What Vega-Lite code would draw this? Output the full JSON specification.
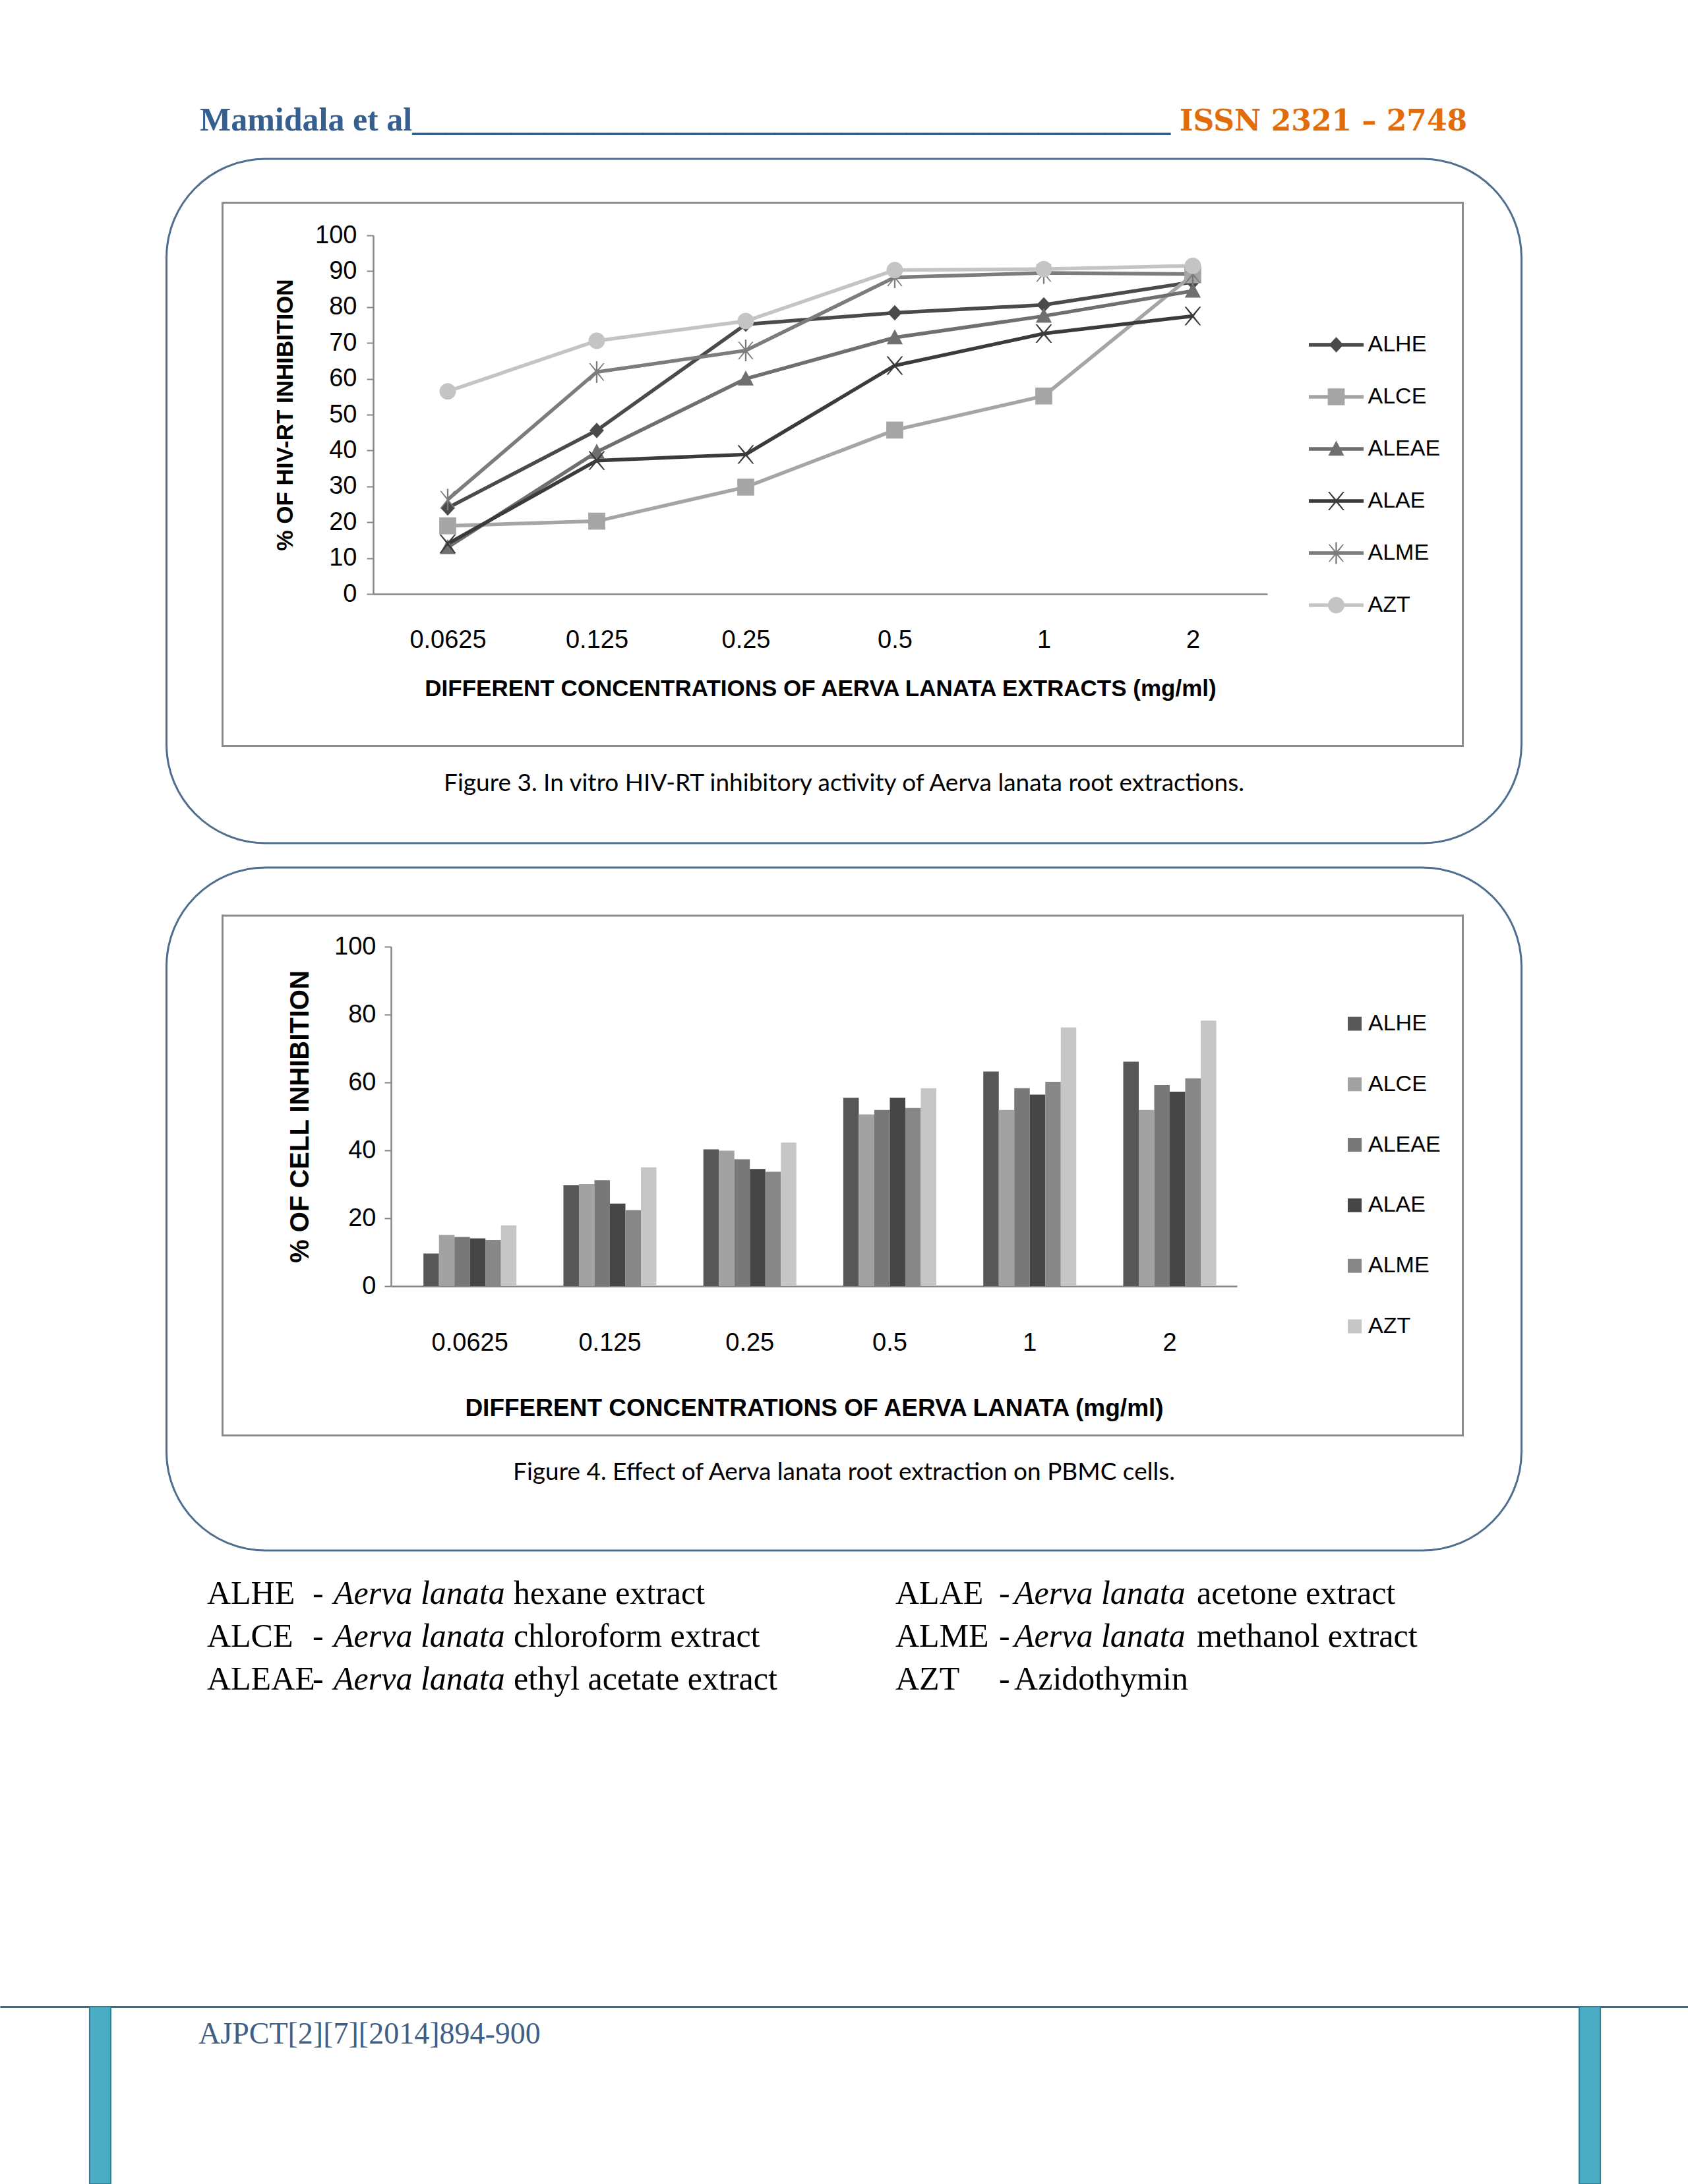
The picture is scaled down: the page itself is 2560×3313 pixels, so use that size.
{
  "$schema": "https://vega.github.io/schema/vega-lite/v6.json",
  "background": "white",
  "padding": 0,
  "bounds": "flush",
  "spacing": 37,
  "center": true,
  "resolve": {
    "scale": {"color": "independent", "fill": "independent", "stroke": "independent", "shape": "independent"},
    "legend": {"color": "independent", "fill": "independent", "stroke": "independent", "shape": "independent"}
  },
  "config": {
    "view": {"stroke": null},
    "font": "Liberation Sans, sans-serif",
    "axis": {"grid": false, "labelColor": "#000000", "titleColor": "#000000", "domainColor": "#868686", "domainWidth": 2.5, "tickColor": "#868686", "tickWidth": 2, "labelFont": "Liberation Sans, sans-serif", "titleFont": "Liberation Sans, sans-serif", "labelFontSize": 38, "titleFontWeight": "bold"},
    "legend": {"padding": 0, "labelColor": "#000000", "labelFontSize": 34, "labelFont": "Liberation Sans, sans-serif"}
  },
  "datasets": {
    "rt": [
      {"conc": "0.0625", "series": "ALHE", "inhibition": 24},
      {"conc": "0.125", "series": "ALHE", "inhibition": 45.6},
      {"conc": "0.25", "series": "ALHE", "inhibition": 75.2},
      {"conc": "0.5", "series": "ALHE", "inhibition": 78.4},
      {"conc": "1", "series": "ALHE", "inhibition": 80.6},
      {"conc": "2", "series": "ALHE", "inhibition": 87},
      {"conc": "0.0625", "series": "ALCE", "inhibition": 19},
      {"conc": "0.125", "series": "ALCE", "inhibition": 20.3},
      {"conc": "0.25", "series": "ALCE", "inhibition": 29.8},
      {"conc": "0.5", "series": "ALCE", "inhibition": 45.7},
      {"conc": "1", "series": "ALCE", "inhibition": 55.2},
      {"conc": "2", "series": "ALCE", "inhibition": 89},
      {"conc": "0.0625", "series": "ALEAE", "inhibition": 13},
      {"conc": "0.125", "series": "ALEAE", "inhibition": 39.6},
      {"conc": "0.25", "series": "ALEAE", "inhibition": 60},
      {"conc": "0.5", "series": "ALEAE", "inhibition": 71.5},
      {"conc": "1", "series": "ALEAE", "inhibition": 77.5},
      {"conc": "2", "series": "ALEAE", "inhibition": 84.5},
      {"conc": "0.0625", "series": "ALAE", "inhibition": 14},
      {"conc": "0.125", "series": "ALAE", "inhibition": 37.2},
      {"conc": "0.25", "series": "ALAE", "inhibition": 38.9},
      {"conc": "0.5", "series": "ALAE", "inhibition": 63.7},
      {"conc": "1", "series": "ALAE", "inhibition": 72.6},
      {"conc": "2", "series": "ALAE", "inhibition": 77.5},
      {"conc": "0.0625", "series": "ALME", "inhibition": 26.3},
      {"conc": "0.125", "series": "ALME", "inhibition": 61.9},
      {"conc": "0.25", "series": "ALME", "inhibition": 67.9},
      {"conc": "0.5", "series": "ALME", "inhibition": 88.3},
      {"conc": "1", "series": "ALME", "inhibition": 89.5},
      {"conc": "2", "series": "ALME", "inhibition": 89.2},
      {"conc": "0.0625", "series": "AZT", "inhibition": 56.5},
      {"conc": "0.125", "series": "AZT", "inhibition": 70.6},
      {"conc": "0.25", "series": "AZT", "inhibition": 76.1},
      {"conc": "0.5", "series": "AZT", "inhibition": 90.3},
      {"conc": "1", "series": "AZT", "inhibition": 90.6},
      {"conc": "2", "series": "AZT", "inhibition": 91.5}
    ],
    "pbmc": [
      {"conc": "0.0625", "series": "ALHE", "inhibition": 9.6},
      {"conc": "0.0625", "series": "ALCE", "inhibition": 15.1},
      {"conc": "0.0625", "series": "ALEAE", "inhibition": 14.5},
      {"conc": "0.0625", "series": "ALAE", "inhibition": 14.1},
      {"conc": "0.0625", "series": "ALME", "inhibition": 13.6},
      {"conc": "0.0625", "series": "AZT", "inhibition": 17.9},
      {"conc": "0.125", "series": "ALHE", "inhibition": 29.7},
      {"conc": "0.125", "series": "ALCE", "inhibition": 30.1},
      {"conc": "0.125", "series": "ALEAE", "inhibition": 31.2},
      {"conc": "0.125", "series": "ALAE", "inhibition": 24.3},
      {"conc": "0.125", "series": "ALME", "inhibition": 22.4},
      {"conc": "0.125", "series": "AZT", "inhibition": 35},
      {"conc": "0.25", "series": "ALHE", "inhibition": 40.3},
      {"conc": "0.25", "series": "ALCE", "inhibition": 39.9},
      {"conc": "0.25", "series": "ALEAE", "inhibition": 37.4},
      {"conc": "0.25", "series": "ALAE", "inhibition": 34.5},
      {"conc": "0.25", "series": "ALME", "inhibition": 33.7},
      {"conc": "0.25", "series": "AZT", "inhibition": 42.3},
      {"conc": "0.5", "series": "ALHE", "inhibition": 55.5},
      {"conc": "0.5", "series": "ALCE", "inhibition": 50.6},
      {"conc": "0.5", "series": "ALEAE", "inhibition": 51.9},
      {"conc": "0.5", "series": "ALAE", "inhibition": 55.5},
      {"conc": "0.5", "series": "ALME", "inhibition": 52.5},
      {"conc": "0.5", "series": "AZT", "inhibition": 58.3},
      {"conc": "1", "series": "ALHE", "inhibition": 63.2},
      {"conc": "1", "series": "ALCE", "inhibition": 51.9},
      {"conc": "1", "series": "ALEAE", "inhibition": 58.3},
      {"conc": "1", "series": "ALAE", "inhibition": 56.4},
      {"conc": "1", "series": "ALME", "inhibition": 60.2},
      {"conc": "1", "series": "AZT", "inhibition": 76.2},
      {"conc": "2", "series": "ALHE", "inhibition": 66.1},
      {"conc": "2", "series": "ALCE", "inhibition": 51.9},
      {"conc": "2", "series": "ALEAE", "inhibition": 59.2},
      {"conc": "2", "series": "ALAE", "inhibition": 57.3},
      {"conc": "2", "series": "ALME", "inhibition": 61.2},
      {"conc": "2", "series": "AZT", "inhibition": 78.2}
    ]
  },
  "vconcat": [
    {
      "width": 2560,
      "height": 204,
      "encoding": {
        "x": {"field": "side", "type": "nominal", "scale": {"type": "point", "domain": ["left", "right"], "padding": 0.3614, "align": 0.2821}, "axis": null},
        "y": {"field": "band", "type": "nominal", "scale": {"type": "point", "domain": ["header"], "align": 0.9706}, "axis": null},
        "text": {"field": "label"}
      },
      "layer": [
        {
          "data": {"values": [{"side": "left", "band": "header", "label": "Mamidala et al______________________________________________"}]},
          "mark": {"type": "text", "align": "left", "baseline": "alphabetic", "font": "Liberation Serif", "fontSize": 50, "fontWeight": "bold", "color": "#365f91"}
        },
        {
          "data": {"values": [{"side": "right", "band": "header", "label": "ISSN 2321 – 2748"}]},
          "mark": {"type": "text", "align": "left", "baseline": "alphabetic", "font": "DejaVu Serif", "fontSize": 44, "fontWeight": "bold", "color": "#e36c0a"}
        }
      ]
    },
    {
      "width": 2055,
      "height": 1038,
      "view": {"stroke": "#4f6d8f", "strokeWidth": 3, "cornerRadius": 150},
      "title": {"text": "Figure 3. In vitro HIV-RT inhibitory activity of Aerva lanata root extractions.", "orient": "bottom", "offset": -79, "baseline": "alphabetic", "font": "Lato", "fontSize": 37, "fontWeight": "normal", "color": "#000000", "anchor": "middle"},
      "data": {"name": "rt"},
      "layer": [
        {
          "mark": {"type": "point", "opacity": 0},
          "encoding": {
            "x": {"datum": 0, "type": "quantitative", "scale": {"domain": [0, 1], "range": [84.5, 1965.5]}, "axis": {"orient": "bottom", "offset": -148, "ticks": false, "labels": false, "title": null, "domainColor": "#8c8c8c", "domainWidth": 3, "domainCap": "square"}},
            "y": {"datum": 0, "type": "quantitative", "scale": {"domain": [0, 1], "range": [890, 66]}, "axis": {"orient": "left", "offset": -84.5, "ticks": false, "labels": false, "title": null, "domainColor": "#8c8c8c", "domainWidth": 3, "domainCap": "square"}}
          }
        },
        {
          "mark": {"type": "point", "opacity": 0},
          "encoding": {
            "x": {"datum": 0, "type": "quantitative", "scale": {"domain": [0, 1], "range": [84.5, 1965.5]}, "axis": {"orient": "top", "offset": -66, "ticks": false, "labels": false, "title": null, "domainColor": "#8c8c8c", "domainWidth": 3, "domainCap": "square"}},
            "y": {"datum": 0, "type": "quantitative", "scale": {"domain": [0, 1], "range": [890, 66]}, "axis": {"orient": "right", "offset": -89.5, "ticks": false, "labels": false, "title": null, "domainColor": "#8c8c8c", "domainWidth": 3, "domainCap": "square"}}
          }
        },
        {
          "mark": {"type": "line", "strokeWidth": 5.5},
          "encoding": {
            "x": {"field": "conc", "type": "ordinal", "scale": {"type": "point", "domain": ["0.0625", "0.125", "0.25", "0.5", "1", "2"], "padding": 0.5, "range": [313.5, 1669.5]}, "axis": {"orient": "bottom", "offset": -378, "ticks": false, "labelAngle": 0, "labelPadding": 51, "title": "DIFFERENT CONCENTRATIONS OF AERVA LANATA EXTRACTS (mg/ml)", "titleFontSize": 35, "titlePadding": 37}},
            "y": {"field": "inhibition", "type": "quantitative", "scale": {"domain": [0, 100], "range": [660, 116], "nice": false}, "axis": {"orient": "left", "offset": -313.5, "values": [0, 10, 20, 30, 40, 50, 60, 70, 80, 90, 100], "tickSize": 10, "labelPadding": 15, "title": "% OF HIV-RT INHIBITION", "titleFontSize": 35, "titlePadding": 27}},
            "stroke": {"field": "series", "type": "nominal", "sort": ["ALHE", "ALCE", "ALEAE", "ALAE", "ALME", "AZT"], "scale": {"range": ["#4a4a4a", "#a5a5a5", "#6f6f6f", "#3b3b3b", "#7c7c7c", "#c4c4c4"]}, "legend": {
              "orient": "none", "legendX": 1729.5, "legendY": 242.8, "title": null,
              "symbolType": "stroke", "symbolSize": 6889, "symbolStrokeWidth": 5.5, "clipHeight": 78.4, "rowPadding": 0, "labelOffset": 3.5
            }}
          }
        },
        {
          "mark": {"type": "point", "filled": true, "size": 6084, "opacity": 1, "strokeWidth": 0},
          "encoding": {
            "x": {"field": "conc", "type": "ordinal", "scale": {"type": "point", "domain": ["0.0625", "0.125", "0.25", "0.5", "1", "2"], "padding": 0.5, "range": [313.5, 1669.5]}, "axis": null},
            "y": {"field": "inhibition", "type": "quantitative", "scale": {"domain": [0, 100], "range": [660, 116], "nice": false}, "axis": null},
            "fill": {"field": "series", "type": "nominal", "scale": {"domain": ["ALHE", "ALCE", "ALEAE", "ALAE", "ALME", "AZT"], "range": ["#4a4a4a", "#a5a5a5", "#6f6f6f", "#3b3b3b", "#7c7c7c", "#c4c4c4"]}, "legend": {
              "orient": "none", "legendX": 1735, "legendY": 242.8, "title": null,
              "symbolSize": 6084, "symbolStrokeWidth": 0, "clipHeight": 78.4, "rowPadding": 0, "labelOpacity": 0, "labelOffset": 3.5
            }},
            "shape": {"field": "series", "type": "nominal", "scale": {"domain": ["ALHE", "ALCE", "ALEAE", "ALAE", "ALME", "AZT"], "range": [
              "M0,-0.3L0.28,0L0,0.3L-0.28,0Z",
              "M-0.33,-0.33L0.33,-0.33L0.33,0.33L-0.33,0.33Z",
              "M0,-0.32L0.31,0.26L-0.31,0.26Z",
              "M-0.32,-0.36L-0.26,-0.36L0,-0.06L0.26,-0.36L0.32,-0.36L0.04,0L0.32,0.36L0.26,0.36L0,0.06L-0.26,0.36L-0.32,0.36L-0.04,0Z",
              "M-0.3,-0.34L-0.25,-0.34L0,-0.05L0.25,-0.34L0.3,-0.34L0.035,0L0.3,0.34L0.25,0.34L0,0.05L-0.25,0.34L-0.3,0.34L-0.035,0ZM-0.03,-0.42L0.03,-0.42L0.03,0.42L-0.03,0.42Z",
              "M-0.32,0A0.32,0.32,0,1,1,0.32,0A0.32,0.32,0,1,1,-0.32,0Z"
            ]}, "legend": {
              "orient": "none", "legendX": 1735, "legendY": 242.8, "title": null,
              "symbolSize": 6084, "symbolStrokeWidth": 0, "clipHeight": 78.4, "rowPadding": 0, "labelOpacity": 0, "labelOffset": 3.5
            }}
          }
        }
      ],
      "resolve": {"scale": {"x": "independent", "y": "independent"}, "axis": {"x": "independent", "y": "independent"}}
    },
    {
      "width": 2055,
      "height": 1036,
      "view": {"stroke": "#4f6d8f", "strokeWidth": 3, "cornerRadius": 150},
      "title": {"text": "Figure 4. Effect of Aerva lanata root extraction on PBMC cells.", "orient": "bottom", "offset": -107, "baseline": "alphabetic", "font": "Lato", "fontSize": 37, "fontWeight": "normal", "color": "#000000", "anchor": "middle"},
      "data": {"name": "pbmc"},
      "layer": [
        {
          "mark": {"type": "point", "opacity": 0},
          "encoding": {
            "x": {"datum": 0, "type": "quantitative", "scale": {"domain": [0, 1], "range": [84.5, 1965.5]}, "axis": {"orient": "bottom", "offset": -175, "ticks": false, "labels": false, "title": null, "domainColor": "#8c8c8c", "domainWidth": 3, "domainCap": "square"}},
            "y": {"datum": 0, "type": "quantitative", "scale": {"domain": [0, 1], "range": [861, 72.5]}, "axis": {"orient": "left", "offset": -84.5, "ticks": false, "labels": false, "title": null, "domainColor": "#8c8c8c", "domainWidth": 3, "domainCap": "square"}}
          }
        },
        {
          "mark": {"type": "point", "opacity": 0},
          "encoding": {
            "x": {"datum": 0, "type": "quantitative", "scale": {"domain": [0, 1], "range": [84.5, 1965.5]}, "axis": {"orient": "top", "offset": -72.5, "ticks": false, "labels": false, "title": null, "domainColor": "#8c8c8c", "domainWidth": 3, "domainCap": "square"}},
            "y": {"datum": 0, "type": "quantitative", "scale": {"domain": [0, 1], "range": [861, 72.5]}, "axis": {"orient": "right", "offset": -89.5, "ticks": false, "labels": false, "title": null, "domainColor": "#8c8c8c", "domainWidth": 3, "domainCap": "square"}}
          }
        },
        {
          "mark": {"type": "bar"},
          "encoding": {
            "x": {"field": "conc", "type": "ordinal", "scale": {"type": "band", "domain": ["0.0625", "0.125", "0.25", "0.5", "1", "2"], "range": [340.5, 1623.5], "paddingInner": 0.3355, "paddingOuter": 0.19, "align": 0.61}, "axis": {"orient": "bottom", "offset": -401, "ticks": false, "labelAngle": 0, "labelPadding": 67, "title": "DIFFERENT CONCENTRATIONS OF AERVA LANATA (mg/ml)", "titleFontSize": 37, "titlePadding": 62}},
            "xOffset": {"field": "series", "type": "nominal", "scale": {"domain": ["ALHE", "ALCE", "ALEAE", "ALAE", "ALME", "AZT"], "paddingInner": 0, "paddingOuter": 0}},
            "y": {"field": "inhibition", "type": "quantitative", "scale": {"domain": [0, 100], "range": [635, 120], "nice": false}, "axis": {"orient": "left", "offset": -340.5, "values": [0, 20, 40, 60, 80, 100], "tickSize": 10, "labelPadding": 13, "title": "% OF CELL INHIBITION", "titleFontSize": 40, "titlePadding": 31}},
            "fill": {"field": "series", "type": "nominal", "scale": {"domain": ["ALHE", "ALCE", "ALEAE", "ALAE", "ALME", "AZT"], "range": ["#575757", "#a2a2a2", "#787878", "#464646", "#878787", "#c6c6c6"]}, "legend": {"orient": "none", "legendX": 1785, "legendY": 220, "title": null, "symbolType": "square", "symbolSize": 441, "symbolStrokeWidth": 0, "labelOffset": 3.5, "rowPadding": 57.8}}
          }
        }
      ],
      "resolve": {"scale": {"x": "independent", "y": "independent"}, "axis": {"x": "independent", "y": "independent"}}
    },
    {
      "width": 2560,
      "height": 618,
      "data": {"values": [
        {"col": "L", "row": 1, "abbr": "ALHE", "ital": "Aerva lanata", "rest": "hexane extract", "plain": ""},
        {"col": "L", "row": 2, "abbr": "ALCE", "ital": "Aerva lanata", "rest": "chloroform extract", "plain": ""},
        {"col": "L", "row": 3, "abbr": "ALEAE", "ital": "Aerva lanata", "rest": "ethyl acetate extract", "plain": ""},
        {"col": "R", "row": 1, "abbr": "ALAE", "ital": "Aerva lanata", "rest": "acetone extract", "plain": ""},
        {"col": "R", "row": 2, "abbr": "ALME", "ital": "Aerva lanata", "rest": "methanol extract", "plain": ""},
        {"col": "R", "row": 3, "abbr": "AZT", "ital": "", "rest": "", "plain": "Azidothymin"}
      ]},
      "encoding": {
        "y": {"field": "row", "type": "ordinal", "scale": {"type": "point", "domain": [1, 2, 3], "range": [44, 174], "padding": 0}, "axis": null}
      },
      "layer": [
        {
          "mark": {"type": "text", "align": "left", "baseline": "alphabetic", "font": "Liberation Serif", "fontSize": 50, "color": "#000000"},
          "encoding": {
            "x": {"field": "col", "type": "nominal", "scale": {"type": "point", "domain": ["L", "R"], "padding": 0.726, "align": 0.2071}, "axis": null},
            "text": {"field": "abbr"}
          }
        },
        {
          "mark": {"type": "text", "align": "left", "baseline": "alphabetic", "font": "Liberation Serif", "fontSize": 50, "color": "#000000"},
          "encoding": {
            "x": {"field": "col", "type": "nominal", "scale": {"type": "point", "domain": ["L", "R"], "padding": 0.7296, "align": 0.312}, "axis": null},
            "text": {"value": "-"}
          }
        },
        {
          "mark": {"type": "text", "align": "left", "baseline": "alphabetic", "font": "Liberation Serif", "fontSize": 50, "fontStyle": "italic", "color": "#000000"},
          "encoding": {
            "x": {"field": "col", "type": "nominal", "scale": {"type": "point", "domain": ["L", "R"], "padding": 0.7403, "align": 0.3312}, "axis": null},
            "text": {"field": "ital"}
          }
        },
        {
          "mark": {"type": "text", "align": "left", "baseline": "alphabetic", "font": "Liberation Serif", "fontSize": 50, "color": "#000000"},
          "encoding": {
            "x": {"field": "col", "type": "nominal", "scale": {"type": "point", "domain": ["L", "R"], "padding": 0.7403, "align": 0.3312}, "axis": null},
            "text": {"field": "plain"}
          }
        },
        {
          "mark": {"type": "text", "align": "left", "baseline": "alphabetic", "font": "Liberation Serif", "fontSize": 50, "color": "#000000"},
          "encoding": {
            "x": {"field": "col", "type": "nominal", "scale": {"type": "point", "domain": ["L", "R"], "padding": 0.7355, "align": 0.5112}, "axis": null},
            "text": {"field": "rest"}
          }
        }
      ],
      "resolve": {"scale": {"x": "independent"}}
    },
    {
      "width": 2560,
      "height": 269,
      "layer": [
        {
          "data": {"values": [{"pos": "left"}, {"pos": "right"}]},
          "mark": {"type": "bar", "fill": "#4bacc6", "stroke": "#2e7f95", "strokeWidth": 2},
          "encoding": {
            "x": {"field": "pos", "type": "nominal", "scale": {"type": "band", "domain": ["left", "right"], "paddingInner": 0.98583, "paddingOuter": 0.0595, "align": 0.5056}, "axis": {"orient": "top", "domainColor": "#3d6e80", "domainWidth": 3, "ticks": false, "labels": false, "title": null}}
          }
        },
        {
          "data": {"values": [{"ref": "AJPCT[2][7][2014]894-900"}]},
          "mark": {"type": "text", "align": "left", "baseline": "alphabetic", "font": "Liberation Serif", "fontSize": 46, "color": "#3f5f86"},
          "encoding": {
            "x": {"field": "ref", "type": "nominal", "scale": {"type": "point", "align": 0.1176}, "axis": null},
            "y": {"field": "ref", "type": "nominal", "scale": {"type": "point", "align": 0.208}, "axis": null},
            "text": {"field": "ref"}
          }
        }
      ],
      "resolve": {"scale": {"x": "independent"}, "axis": {"x": "independent"}}
    }
  ]
}
